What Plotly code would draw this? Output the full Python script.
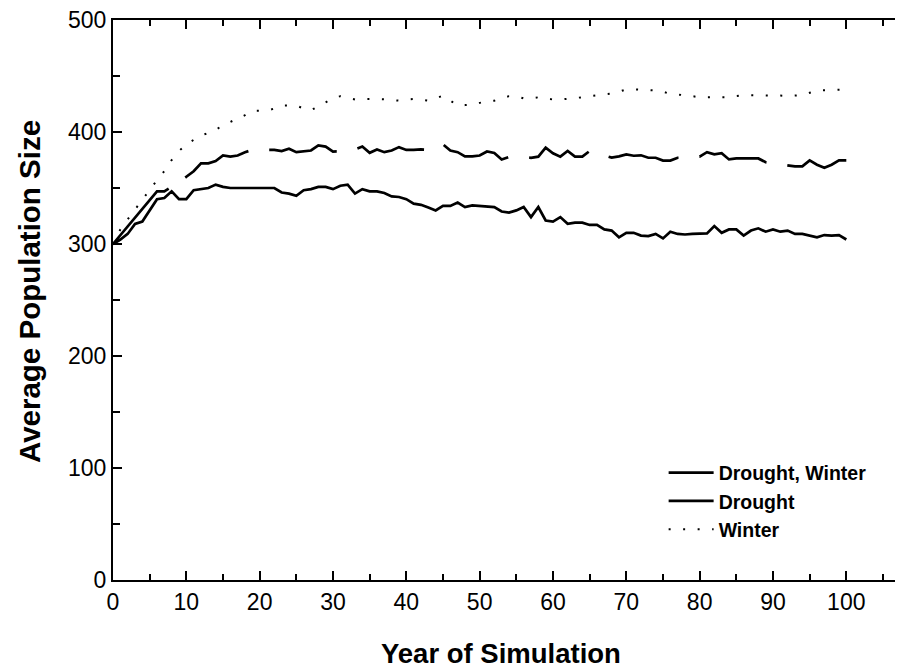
import plotly.graph_objects as go

# Year of simulation
years = list(range(0, 101))

# Drought, Winter (lower solid line)
drought_winter = [
    300, 304, 309, 318, 320, 330, 340, 341, 347, 340,
    340, 348, 349, 350, 353, 351, 350, 350, 349.5, 349.5,
    349.5, 350, 350, 346, 345, 343, 348, 349, 351, 351,
    349, 352, 353, 345, 349, 347, 347, 345.5, 342.5, 342,
    340, 336, 335, 332.5, 330, 334, 334, 337, 333, 334.5,
    334, 333.5, 333, 329, 328, 330, 333, 324, 333, 321,
    320, 324, 318, 319, 319, 317, 317, 313, 312, 306,
    310, 310, 307.5, 307, 309, 305, 311, 309, 308.5, 309,
    309, 309.5, 316, 310, 313, 313, 307.5, 312, 314, 311,
    313, 311, 312, 309, 309, 307.5, 306, 308, 307.5, 308,
    304,
]

# Drought (long-dashed line)
drought = [
    300, 308, 316, 324, 332, 340, 347, 347, 351, 355,
    360, 365, 372, 372, 374, 379, 378, 379, 382, 384,
    384, 384, 384, 383, 385, 382, 383, 383.5, 388, 387,
    382.5, 383, 383, 384.4, 387, 381.4, 384.4, 382, 383.5, 386.5,
    384, 384, 384.4, 384, 386, 389, 383.5, 382, 378.2, 378.2,
    379, 382.6, 381.3, 375.4, 377.7, 378, 378, 377, 378, 386,
    381, 378, 383, 378, 378, 383, 381, 379, 377.1, 378.2,
    380, 378.8, 379.2, 377, 377, 374.5, 374.5, 377, 377, 378,
    378, 382, 380, 381, 375.5, 376.4, 376.4, 376.4, 376.4, 373,
    372, 371, 370.2, 369.3, 369.3, 374.6, 370.8, 368.1, 370.8, 374.6,
    374.6,
]

# Winter (dotted line)
winter = [
    300, 313, 322, 331, 340, 348, 357, 365, 375, 383,
    389, 393, 397, 399, 402, 406, 409, 412, 415, 419,
    419, 419, 421, 423.6, 423.6, 423.6, 421, 419.4, 423, 426.8,
    430, 432, 430.5, 429, 429.5, 429.8, 429.5, 429.2, 428.5, 428,
    429, 429.5, 429, 428, 430, 432.5, 428, 423.6, 424, 424.4,
    426, 427.4, 428, 430, 432, 432, 430, 430, 431, 430,
    429, 429, 429.5, 430, 431, 432, 432.8, 433.5, 434.3, 436,
    438, 438, 437.8, 437.5, 437.2, 436, 434, 433.5, 433, 432,
    431, 431, 430.7, 431, 431, 432, 432.8, 432.8, 432.8, 432.8,
    432.8, 432.5, 432, 432.5, 433, 435, 437, 437.3, 437.5, 438,
    438,
]

FONT = "Arial, Liberation Sans, sans-serif"

# long dashes; the first one is a little longer, as in the original
long_dash = "81px,20px," + ",".join(["72px,21px"] * 12)

fig = go.Figure()
fig.add_trace(go.Scatter(x=years, y=drought_winter, name="Drought, Winter",
                         mode="lines", line=dict(color="black", width=2.7)))
fig.add_trace(go.Scatter(x=years, y=drought, name="Drought",
                         mode="lines",
                         line=dict(color="black", width=2.7, dash=long_dash)))
fig.add_trace(go.Scatter(x=years, y=winter, name="Winter",
                         mode="lines",
                         line=dict(color="black", width=2, dash="2px,12.5px")))

axis_common = dict(
    showgrid=False, zeroline=False, showline=True, automargin=False,
    linecolor="black", linewidth=2, ticklabeloverflow="allow",
    ticks="inside", tickcolor="black", tickwidth=2, ticklen=9,
    tickfont=dict(family=FONT, size=23, color="black"),
)

# the page body adds an 8px offset, so the figure is 8px smaller
fig.update_layout(
    width=895, height=661,
    margin=dict(l=105, r=0, t=12, b=89),
    paper_bgcolor="white", plot_bgcolor="white",
    showlegend=True,
    xaxis=dict(range=[0, 107.73], dtick=10, tick0=0, mirror="ticks",
               minor=dict(dtick=5, ticks="inside", ticklen=6,
                          tickwidth=2, tickcolor="black"),
               **axis_common),
    yaxis=dict(range=[0, 500], dtick=100, tick0=0,
               minor=dict(dtick=50, ticks="inside", ticklen=7,
                          tickwidth=2, tickcolor="black"),
               **axis_common),
    legend=dict(x=0.697, y=0.226, xanchor="left", yanchor="top",
                bgcolor="rgba(0,0,0,0)", itemwidth=45,
                font=dict(family=FONT, size=19.5, color="black",
                          weight="bold"),
                tracegroupgap=0),
    annotations=[
        dict(text="<b>Year of Simulation</b>", xref="paper", yref="paper",
             x=0.491, y=-0.131, xanchor="center", yanchor="middle",
             showarrow=False, font=dict(family=FONT, size=27.5, color="black")),
        dict(text="<b>Average Population Size</b>", xref="paper",
             yref="paper", x=-0.1054, y=0.5155, xanchor="center",
             yanchor="middle", textangle=-90, showarrow=False,
             font=dict(family=FONT, size=29.5, color="black")),
    ],
)

fig.write_html("out.html")
